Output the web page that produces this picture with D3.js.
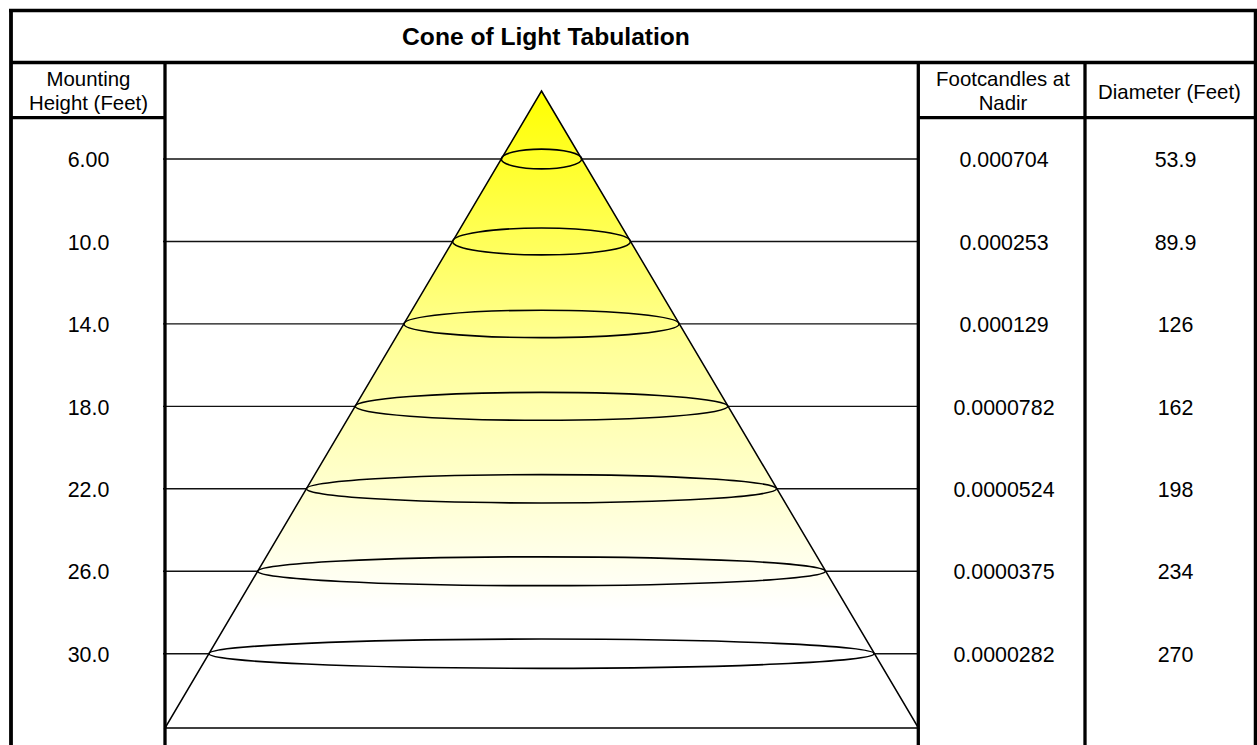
<!DOCTYPE html>
<html>
<head>
<meta charset="utf-8">
<script src="https://cdn.jsdelivr.net/npm/d3@7"></script>
<style>
  html, body { margin: 0; padding: 0; background: #fff; }
  svg { display: block; }
  text { font-family: "Liberation Sans", Arial, Helvetica, sans-serif; fill: #000; }
</style>
</head>
<body>
<svg id="chart" width="1257" height="745"></svg>
<script>
// ---- data ----
const title = "Cone of Light Tabulation";
const headerMounting = ["Mounting", "Height (Feet)"];
const headerFootcandles = ["Footcandles at", "Nadir"];
const headerDiameter = ["Diameter (Feet)"];
const mountingHeights = [6, 10, 14, 18, 22, 26, 30];
const footcandles = [0.000704, 0.000253, 0.000129, 0.0000782, 0.0000524, 0.0000375, 0.0000282];
const diameters = [53.9, 89.9, 126, 162, 198, 234, 270];

// ---- layout ----
const W = 1257, H = 745;
const svg = d3.select("#chart");
const fmt = d3.format(".3r");

const xL = 11, xR = 1255.5;          // outer borders
const yTop = 10.5, yTitle = 62.5, yHead = 117.7;
const c1 = 165, c2 = 918.3, c3 = 1085;
const apex = { x: 541.5, y: 91 };
const baseY = 728;

// scale: mounting height -> row y
const y = d3.scaleLinear().domain([6, 30]).range([159, 653.7]);
// cone half-width at a given pixel y
const halfW = d3.scaleLinear().domain([apex.y, baseY]).range([0, 376.5]);

// gradient
const defs = svg.append("defs");
const grad = defs.append("linearGradient")
  .attr("id", "coneGrad").attr("gradientUnits", "userSpaceOnUse")
  .attr("x1", 0).attr("x2", 0).attr("y1", apex.y).attr("y2", 610);
grad.append("stop").attr("offset", 0).attr("stop-color", "#ffff00");
grad.append("stop").attr("offset", 0.5).attr("stop-color", "#ffff99");
grad.append("stop").attr("offset", 1).attr("stop-color", "#ffffff");

// row lines (full width of cone column; cone covers the middle)
const rows = mountingHeights.map((h, i) => ({ h, fc: footcandles[i], d: diameters[i], y: y(h) }));

svg.append("g").selectAll("line").data(rows).join("line")
  .attr("x1", c1 - 2).attr("x2", c2)
  .attr("y1", d => d.y).attr("y2", d => d.y)
  .attr("stroke", "#111").attr("stroke-width", 1.4);

// cone
const coneLine = d3.line();
const conePts = [[apex.x, apex.y], [apex.x + halfW(baseY) + 0.5, baseY], [apex.x - halfW(baseY), baseY]];
svg.append("path")
  .attr("d", coneLine(conePts) + "Z")
  .attr("fill", "url(#coneGrad)")
  .attr("stroke", "#000").attr("stroke-width", 1.5).attr("stroke-linejoin", "miter");

// ellipses
svg.append("g").selectAll("ellipse").data(rows).join("ellipse")
  .attr("cx", apex.x)
  .attr("cy", d => d.y)
  .attr("rx", d => halfW(d.y))
  .attr("ry", d => { const rx = halfW(d.y); return Math.min(rx * 0.24, 13) + rx * 0.005; })
  .attr("fill", "none").attr("stroke", "#000").attr("stroke-width", 1.6);

// table grid
const grid = svg.append("g").attr("stroke", "#000").attr("fill", "none");
grid.append("line").attr("x1", xL - 2).attr("x2", xR + 2).attr("y1", yTop).attr("y2", yTop).attr("stroke-width", 3.5);
grid.append("line").attr("x1", xL).attr("x2", xL).attr("y1", yTop).attr("y2", H).attr("stroke-width", 3.8);
grid.append("line").attr("x1", xR).attr("x2", xR).attr("y1", yTop).attr("y2", H).attr("stroke-width", 3.5);
grid.append("line").attr("x1", xL).attr("x2", xR).attr("y1", yTitle).attr("y2", yTitle).attr("stroke-width", 3.5);
[c1, c2, c3].forEach(cx => {
  grid.append("line").attr("x1", cx).attr("x2", cx).attr("y1", yTitle).attr("y2", H).attr("stroke-width", 3.3);
});
grid.append("line").attr("x1", xL).attr("x2", c1).attr("y1", yHead).attr("y2", yHead).attr("stroke-width", 3.3);
grid.append("line").attr("x1", c2).attr("x2", xR).attr("y1", yHead).attr("y2", yHead).attr("stroke-width", 3.3);

// title
svg.append("text").attr("x", 546).attr("y", 44.5)
  .attr("text-anchor", "middle").attr("font-weight", "bold").attr("font-size", 24.6)
  .text(title);

// headers
const hdr = svg.append("g").attr("font-size", 20.4).attr("text-anchor", "middle");
hdr.selectAll("text.m").data(headerMounting).join("text").attr("class", "m")
  .attr("x", 88.5).attr("y", (d, i) => 86 + i * 24.3).text(d => d);
hdr.selectAll("text.f").data(headerFootcandles).join("text").attr("class", "f")
  .attr("x", 1003).attr("y", (d, i) => 85.5 + i * 24.3).text(d => d);
hdr.selectAll("text.d").data(headerDiameter).join("text").attr("class", "d")
  .attr("x", 1169.5).attr("y", 98.5).text(d => d);

// values
const vals = svg.append("g").attr("font-size", 21.4).attr("text-anchor", "middle");
vals.selectAll("text.h").data(rows).join("text").attr("class", "h")
  .attr("x", 88.5).attr("y", d => d.y + 8.2).text(d => fmt(d.h));
vals.selectAll("text.fc").data(rows).join("text").attr("class", "fc")
  .attr("x", 1004).attr("y", d => d.y + 8.2).text(d => fmt(d.fc));
vals.selectAll("text.dd").data(rows).join("text").attr("class", "dd")
  .attr("x", 1175.5).attr("y", d => d.y + 8.2).text(d => fmt(d.d));
</script>
</body>
</html>
